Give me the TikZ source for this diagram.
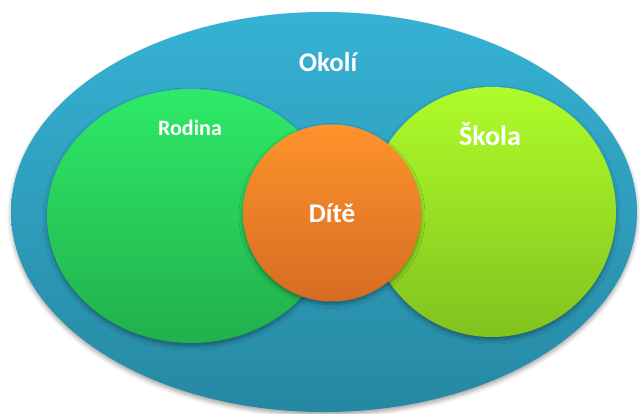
\documentclass[tikz,border=0pt]{standalone}
\usepackage{fontspec}
\setmainfont{Carlito}
\usetikzlibrary{shadows.blur}
\definecolor{okT}{HTML}{36B2D4}
\definecolor{okB}{HTML}{2688A2}
\definecolor{roT}{HTML}{2EEA68}
\definecolor{roB}{HTML}{22B04C}
\definecolor{skT}{HTML}{AEFC2A}
\definecolor{skB}{HTML}{82C21E}
\definecolor{diT}{HTML}{FE932C}
\definecolor{diB}{HTML}{D66C22}
\tikzset{
  blob/.style={shape=ellipse, inner sep=0pt, blur shadow={shadow xshift=0pt, shadow yshift=-3pt, shadow blur radius=4pt, shadow opacity=35}},
  lbl/.style={text=white, font=\bfseries, inner sep=0pt, anchor=center}
}
\usetikzlibrary{shapes.geometric}
\begin{document}
\begin{tikzpicture}[x=1pt,y=-1pt]
\useasboundingbox (0,0) rectangle (640,413);
\clip (0,0) rectangle (640,413);
\node[blob, minimum width=626pt, minimum height=400pt, top color=okT, bottom color=okB] (okoli) at (324,212) {};
\node[blob, minimum width=288pt, minimum height=254pt, top color=roT, bottom color=roB] (rodina) at (191,216) {};
\node[blob, minimum width=248pt, minimum height=250pt, top color=skT, bottom color=skB] (skola) at (492,212) {};
\node[blob, minimum width=178pt, minimum height=177pt, top color=diT, bottom color=diB] (dite) at (332,213) {};
\node[lbl, font=\bfseries\fontsize{27}{30}\selectfont] (tokoli) at (328,62) {Okolí};
\node[lbl, font=\bfseries\fontsize{22}{26}\selectfont] (trodina) at (190,128) {Rodina};
\node[lbl, font=\bfseries\fontsize{28}{32}\selectfont] (tskola) at (490,134) {Škola};
\node[lbl, font=\bfseries\fontsize{27}{30}\selectfont] (tdite) at (332,213) {Dítě};
\end{tikzpicture}
\end{document}
